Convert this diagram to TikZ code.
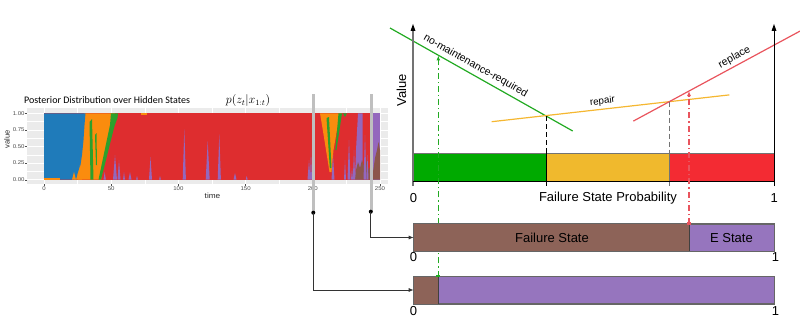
\documentclass[tikz,border=0pt]{standalone}
\usepackage{fontspec}
\setmainfont{Liberation Sans}
\newfontfamily\titlefont{Carlito}
\usetikzlibrary{arrows.meta}
\definecolor{cBlue}{HTML}{1F7BBA}
\definecolor{cOrange}{HTML}{FA8C0E}
\definecolor{cGreen}{HTML}{2CA02C}
\definecolor{cRed}{HTML}{DE2D2F}
\definecolor{cPurple}{HTML}{9467BD}
\definecolor{cBrown}{HTML}{8C564B}
\definecolor{panelgray}{HTML}{EBEBEB}
\definecolor{tickgray}{HTML}{4D4D4D}
\definecolor{barGreen}{HTML}{00AA00}
\definecolor{barOrange}{HTML}{F0B92D}
\definecolor{barRed}{HTML}{F32B33}
\definecolor{lnGreen}{HTML}{22AA22}
\definecolor{lnOrange}{HTML}{F5B731}
\definecolor{lnRed}{HTML}{E9545D}
\definecolor{stBrown}{HTML}{8D6358}
\definecolor{stPurple}{HTML}{9675BE}
\begin{document}
\begin{tikzpicture}[x=1pt,y=-1pt,
  ticklab/.style={font=\fontsize{5.5}{6}\selectfont, text=tickgray, inner sep=0pt, xscale=1.1},
  biglab/.style={font=\fontsize{13}{15}\selectfont, inner sep=0pt},
  linelab/.style={font=\fontsize{10.5}{12}\selectfont, inner sep=0pt},
  statebar/.style={draw=black!60, line width=0.6pt, minimum width=360pt, minimum height=27pt, inner sep=0pt, fill=stPurple},
  conn/.style={draw=black!80, line width=0.8pt, -{Latex[length=5pt,width=4pt]}},
  dashdot/.style={line width=1.2pt, dash pattern=on 6pt off 3pt on 1.2pt off 3pt},
  selbar/.style={fill=black!25}
]
\useasboundingbox (0,0) rectangle (800,329);

% ---------------- left chart ----------------
\node[font=\titlefont\fontsize{10}{11}\selectfont, anchor=west, inner sep=0pt] (title) at (24,100.5) {Posterior Distribution over Hidden States};
\node[inner sep=0pt, font=\fontsize{11.5}{12}\selectfont] (formula) at (248,100.5) {$p(z_t|x_{1:t})$};

\fill[panelgray] (27.3,108.3) rectangle (388,184);
\foreach \yy in {121.6,138.2,154.8,171.4} \draw[white, line width=0.4pt] (27.3,\yy) -- (388,\yy);
\foreach \xx in {77.6,144.8,212,279.2,346.4} \draw[white, line width=0.4pt] (\xx,108.3) -- (\xx,184);
\foreach \yy in {113.3,129.9,146.5,163.1,179.7} \draw[white, line width=0.8pt] (27.3,\yy) -- (388,\yy);
\foreach \xx in {44,111.2,178.4,245.6,312.8,380} \draw[white, line width=0.8pt] (\xx,108.3) -- (\xx,184);

% stacked areas
\fill[cRed] (44,113.3) rectangle (380,179.7);
\fill[cOrange] (84,113.3) -- (115,113.3) -- (108,140) -- (101,179.7) -- (74,179.7) -- cycle;
\fill[cGreen] (111,113.3) -- (118,113.3) -- (117.5,118) -- (114.5,126) -- (101,179.7) -- (98.5,179.7) -- (110,125) -- cycle;
\fill[cGreen] (89.5,122) -- (92,119) -- (93.5,179.7) -- (90.5,179.7) -- cycle;
\fill[cGreen] (95,135) -- (96.5,133) -- (97,165) -- (96,165) -- cycle;
\fill[cBlue] (44,113.3) -- (85.5,113.3) -- (84.5,125) -- (83.5,140) -- (82,155) -- (80.5,165) -- (78,172) -- (76,179.7) -- (44,179.7) -- cycle;
\fill[cOrange] (44,178.3) rectangle (60,179.7);
\fill[cOrange] (72,179.7) -- (74,172) -- (76,179.7) -- cycle;
\fill[cOrange] (78,179.7) -- (80,165) -- (82,179.7) -- cycle;
\fill[cOrange] (141,113.3) rectangle (147,115);
% second orange/green region
\fill[cOrange] (320,113.3) -- (342,113.3) -- (337,130) -- (333.5,150) -- (331.5,172) -- (329.5,172) -- (326,150) -- (322,125) -- cycle;
\fill[cGreen] (326.5,118) -- (329,117) -- (331.5,168) -- (329.8,168) -- cycle;
\fill[cGreen] (338.5,113.3) -- (342,113.3) -- (336.5,150) -- (335.3,150) -- cycle;
\fill[cGreen] (343,113.3) -- (347,113.3) -- (345,117) -- cycle;
% right purple / brown
\fill[cPurple] (358,113.3) -- (362.5,113.3) -- (362.5,179.7) -- (355,179.7) -- (356,150) -- cycle;
\fill[cPurple] (372,113.3) rectangle (380,179.7);
\fill[cBrown] (355,179.7) -- (356,170) -- (358,162) -- (360,168) -- (362,160) -- (364,166) -- (366,158) -- (368,170) -- (371,166) -- (373,172) -- (375,158) -- (377,150) -- (378.5,142) -- (380,150) -- (380,179.7) -- cycle;
% purple spikes
\foreach \sx/\sy/\sw in {104.7/172/1.2, 115/155/2, 119/160/1.5, 124/172/1, 130/172/1.5, 137/176/1, 150.5/157/1.5, 160/176/1, 184.3/129/1.6, 207.7/141/2, 219.3/134/1.6, 235/173/1.5, 246.7/176/1, 309/160/1.5, 311/150/1, 333/155/1.5, 345/160/1, 349/140/1.5, 352/168/1, 354/150/1.2, 365/135/1.5, 367.5/155/1}
  \fill[cPurple] (\sx-\sw,179.7) -- (\sx,\sy) -- (\sx+\sw,179.7) -- cycle;

% axes tick marks and labels
\foreach \yy/\lab in {113.3/1.00,129.9/0.75,146.5/0.50,163.1/0.25,179.7/0.00} {
  \draw[tickgray, line width=0.4pt] (25.3,\yy) -- (27.3,\yy);
  \node[ticklab, anchor=east] at (24.8,\yy) {\lab};
}
\foreach \xx/\lab in {44/0,111.2/50,178.4/100,245.6/150,312.8/200,380/250} {
  \draw[tickgray, line width=0.4pt] (\xx,184) -- (\xx,186);
  \node[ticklab, anchor=north] at (\xx,186.5) {\lab};
}
\node[inner sep=0pt, font=\fontsize{7.5}{8}\selectfont, text=black!85, xscale=1.1] (timelab) at (212.5,195.7) {time};
\node[inner sep=0pt, font=\fontsize{7.5}{8}\selectfont, text=black!85, rotate=90] (valuelab) at (7,139.5) {value};

% selection bars and dots
\fill[selbar] (312,94) rectangle (315,213);
\fill[selbar] (369.5,94) rectangle (372.5,212);
\coordinate (d1) at (313.3,212.7);
\coordinate (d2) at (370.8,211.7);
\fill (d1) circle (2pt);
\fill (d2) circle (2pt);

% ---------------- right top plot ----------------
\fill[barGreen] (413,153) rectangle (546.5,181.5);
\fill[barOrange] (546.5,153) rectangle (669.3,181.5);
\fill[barRed] (669.3,153) rectangle (774,181.5);
\draw[black!55, line width=1pt] (413,153) -- (774,153);
\draw[black, line width=0.9pt] (546.5,153) -- (546.5,186);
\draw[black!55, line width=0.9pt] (669.3,153) -- (669.3,186);

% value lines
\coordinate (gA) at (390,28);
\coordinate (gB) at (572.7,131);
\coordinate (oA) at (491.7,121.7);
\coordinate (oB) at (729.3,94.9);
\coordinate (rA) at (633.3,121.1);
\coordinate (rB) at (800,31.1);
\coordinate (xGO) at (546.5,116.3);
\coordinate (xOR) at (669.3,101.7);
\draw[lnGreen, line width=1.2pt] (gA) -- (gB);
\draw[lnOrange, line width=1.2pt] (oA) -- (oB);
\draw[lnRed, line width=1.2pt] (rA) -- (rB);
\draw[black, line width=1pt, dash pattern=on 5pt off 3pt] (xGO) -- (546.5,153);
\draw[black!55, line width=1.2pt, dash pattern=on 5pt off 3pt] (xOR) -- (669.3,153);

% axes
\draw[black!55, line width=1.2pt] (413,186) -- (413,28);
\fill[black] (413,24) -- (410.5,31) -- (415.5,31) -- cycle;
\draw[black, line width=1pt] (774,186) -- (774,28);
\fill[black] (774,24) -- (771.5,31) -- (776.5,31) -- cycle;
\draw[black, line width=1pt] (413,181.5) -- (774,181.5);

\node[linelab, rotate=-29.4] (nmr) at (475.5,66) {no-maintenance-required};
\node[linelab, font=\fontsize{9.8}{11}\selectfont, rotate=6.4] (rep) at (602.5,101.5) {repair};
\node[linelab, rotate=28.4] (rpl) at (734.5,57.5) {replace};
\node[biglab, rotate=90] (valax) at (401.5,90) {Value};
\node[biglab] (zero1) at (413.5,198) {0};
\node[biglab] (one1) at (774.3,198) {1};
\node[biglab] (fsp) at (608,198) {Failure State Probability};

% dash-dot pointers (behind the state bars)
\coordinate (gp0) at (438.3,276.5);
\coordinate (gp1) at (438.3,55.5);
\coordinate (rp0) at (689,224);
\coordinate (rp1) at (689,91);
\draw[lnGreen, dashdot, -{Latex[length=5pt,width=4pt]}] (gp0) -- (gp1);
\draw[lnRed, dashdot, -{Latex[length=5pt,width=4pt]}] (rp0) -- (rp1);

% ---------------- state bars ----------------
\node[statebar] (bar1) at (594,237.5) {};
\node[statebar] (bar2) at (594,290) {};
\fill[stBrown] (bar1.north west) rectangle (689,251);
\fill[stBrown] (bar2.north west) rectangle (438.3,303.5);
\draw[black!60, line width=0.6pt] (bar1.north west) rectangle (bar1.south east);
\draw[black!60, line width=0.6pt] (bar2.north west) rectangle (bar2.south east);
\draw[black!75, line width=0.7pt] (689,224) -- (689,251);
\draw[black!75, line width=0.7pt] (438.3,276.5) -- (438.3,303.5);
\fill[lnRed] (687,222) rectangle (691,225);
\fill[lnGreen] (436.3,275) rectangle (440.3,277.3);
\node[biglab] (fslab) at (552,238) {Failure State};
\node[biglab] (eslab) at (731.5,238) {E State};
\node[biglab] (zero2) at (413.5,257.5) {0};
\node[biglab] (one2) at (775.5,257.5) {1};
\node[biglab] (zero3) at (413.5,311.5) {0};
\node[biglab] (one3) at (775.5,311.5) {1};

% connectors
\draw[conn] (d1) |- (bar2.west);
\draw[conn] (d2) |- (bar1.west);
\end{tikzpicture}
\end{document}
